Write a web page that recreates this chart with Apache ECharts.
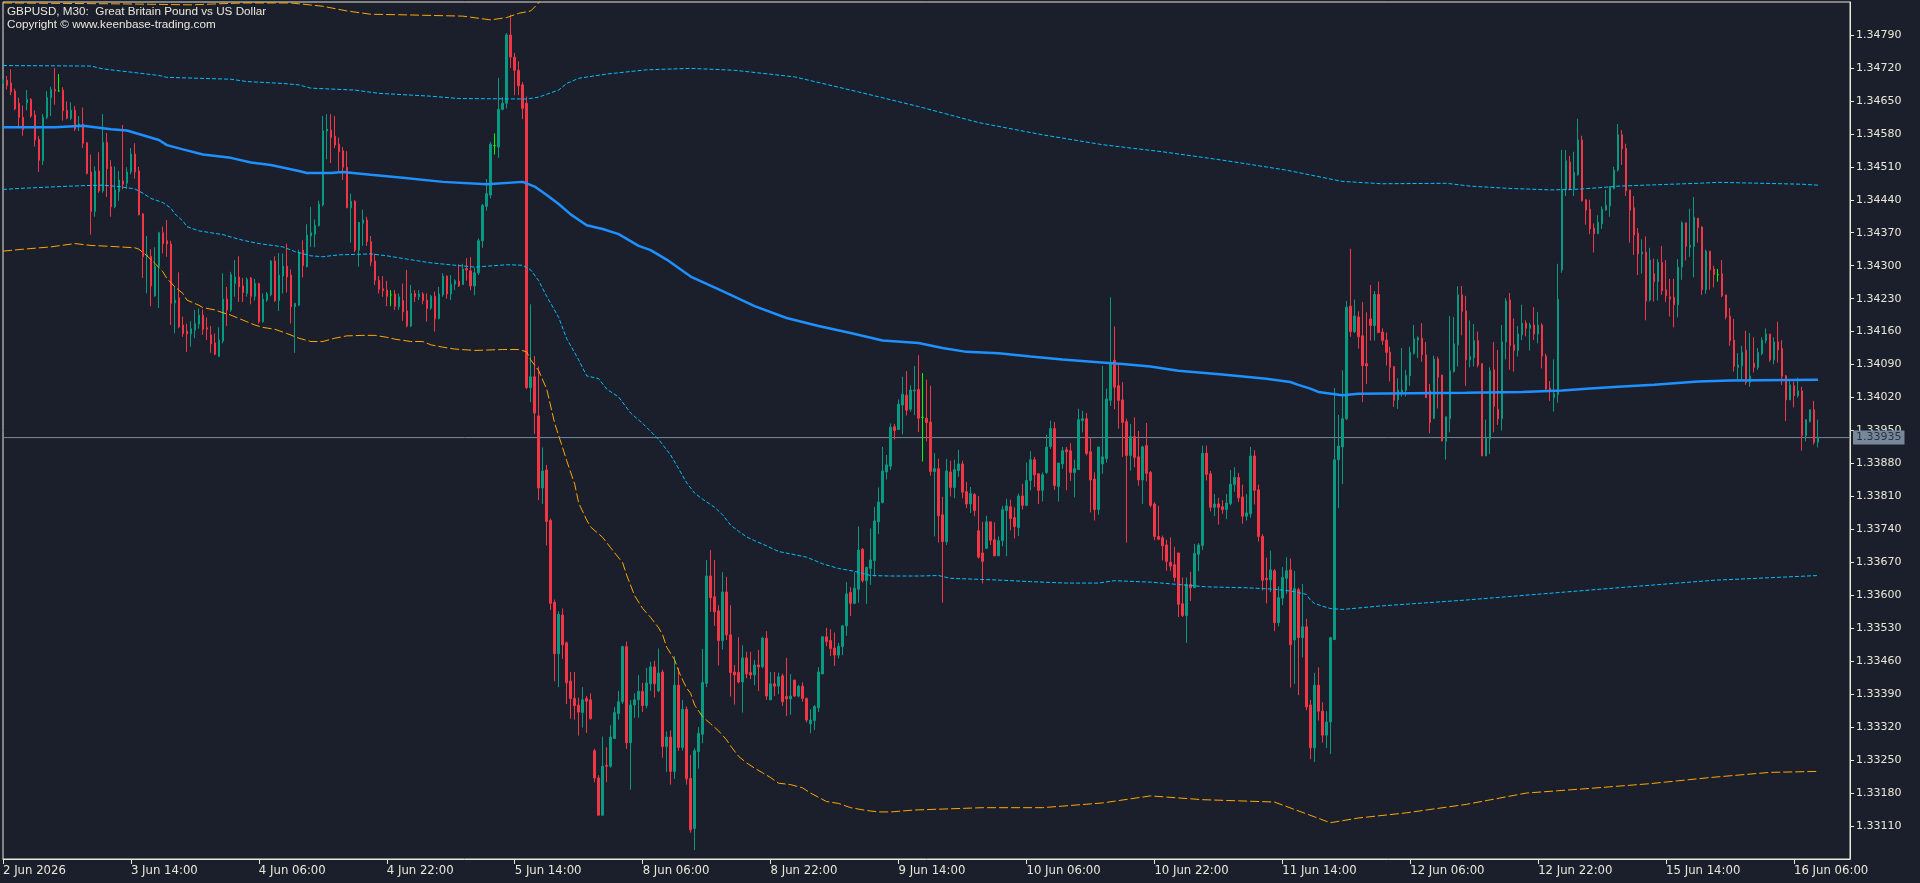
<!DOCTYPE html>
<html>
<head>
<meta charset="utf-8">
<title>GBPUSD, M30</title>
<script src="https://cdn.jsdelivr.net/npm/echarts@6/dist/echarts.min.js"></script>
<style>
  html, body { margin: 0; padding: 0; background: #1b1f2c; }
  #GbpUsdChart { width: 1920px; height: 883px; }
</style>
</head>
<body>
<div id="GbpUsdChart"></div>
<script>
// time axis labels, one every 32 bars (16 hours of M30)
const tickLabels = ["2 Jun 2026", "3 Jun 14:00", "4 Jun 06:00", "4 Jun 22:00", "5 Jun 14:00",
  "8 Jun 06:00", "8 Jun 22:00", "9 Jun 14:00", "10 Jun 06:00", "10 Jun 22:00", "11 Jun 14:00",
  "12 Jun 06:00", "12 Jun 22:00", "15 Jun 14:00", "16 Jun 06:00"];
const TICK_STEP = 32;
const BAR_SLOTS = 463; // 455 bars + chart shift on the right

// prices in points (1e-5)
const opens = [
  134688,134694,134688,134671,134645,134615,134646,134653,134620,134568,
  134523,134615,134657,134674,134671,134673,134630,134613,134630,134595,
  134601,134561,134499,134415,134501,134459,134562,134510,134425,134457,
  134480,134475,134499,134537,134501,134410,134319,134320,134236,134299,
  134370,134353,134346,134221,134232,134174,134161,134155,134163,134176,
  134195,134168,134153,134136,134107,134140,134229,
  134206,134262,134276,134257,134241,134274,134235,134262,134181,134227,
  134238,134310,134226,134278,134299,134280,134213,134216,134333,134298,
  134363,134367,134385,134429,134586,134588,134575,134558,134544,134509,
  134423,134437,134333,134390,134397,134351,134310,134269,134251,134248,
  134238,134240,134213,134226,134204,134172,134241,134234,134240,134227,
  134210,134235,134188,134238,134278,134240,134261,134267,
  134260,134294,134289,134257,134285,134353,134426,134450,134555,134552,
  134632,134645,134790,134743,134715,134684,134645,134041,134064,133981,
  133828,133866,133759,133585,133476,133558,133499,133418,133381,133367,
  133351,133381,133378,133270,133212,133133,133239,133237,133296,133349,
  133374,133491,133287,133367,133378,133396,133366,133412,133448,133397,
  133437,133279,133299,133226,133409,133277,133358,
  133211,133105,133268,133305,133413,133641,133597,133567,133504,133607,
  133516,133437,133436,133416,133467,133436,133431,133452,133448,133509,
  133378,133412,133407,133429,133385,133380,133420,133386,133407,133381,
  133327,133334,133361,133433,133512,133504,133488,133473,133491,133535,
  133606,133583,133613,133698,133631,133657,133674,133756,133797,133862,
  133874,133958,133952,134004,134025,133995,134034,134037,
  133978,133976,133968,133863,133869,133771,133714,133862,133829,133865,
  133879,133820,133794,133814,133737,133690,133700,133756,133718,133684,
  133716,133780,133788,133765,133744,133811,133791,133844,133888,133858,
  133823,133861,133916,133954,133831,133879,133909,133907,133861,133867,
  133971,133975,133905,133847,133782,133879,133890,134014,134099,134045,
  134015,133969,133897,133937,133894,133845,133918,
  133861,133794,133725,133722,133707,133670,133665,133690,133582,133557,
  133623,133616,133687,133706,133902,133858,133787,133794,133788,133782,
  133795,133835,133850,133809,133768,133773,133896,133824,133725,133636,
  133633,133652,133542,133594,133636,133654,133505,133612,133510,133533,
  133367,133276,133409,133354,133303,133331,133506,133888,133915,133975,
  134214,134160,134191,134151,134092,134187,134173,134239,
  134159,134142,134116,134086,134015,134031,134035,134066,134114,134142,
  134146,134111,134034,133976,134102,134068,133927,133975,134075,134132,
  134238,134204,134100,134105,134141,134092,133896,133932,134079,133995,
  133975,134138,134227,134132,134120,134153,134178,134167,134174,134155,
  134174,134108,134040,134020,134026,134291,134461,134520,134464,134493,
  134567,134440,134420,134380,134368,134389,134418,
  134427,134464,134503,134578,134549,134461,134423,134369,134325,134329,
  134227,134283,134266,134307,134249,134234,134233,134217,134297,134391,
  134339,134341,134401,134382,134249,134331,134293,134281,134283,134238,
  134193,134142,134084,134087,134121,134052,134093,134084,134113,134141,
  134155,134100,134138,134124,134066,134015,134045,134024,134034,133939,
  133969,133994,133925
];
const highs = [
  134696,134703,134717,134676,134657,134640,134673,134656,134630,134575,
  134622,134671,134680,134720,134707,134679,134649,134647,134639,134618,
  134636,134562,134536,134511,134541,134622,134582,134524,134511,134501,
  134599,134509,134550,134560,134510,134412,134363,134335,134339,134372,
  134383,134397,134353,134255,134286,134192,134177,134182,134206,134209,
  134207,134190,134172,134156,134169,134284,134255,
  134287,134312,134320,134274,134275,134276,134272,134264,134241,134244,
  134312,134320,134327,134326,134347,134292,134221,134334,134354,134388,
  134425,134398,134438,134618,134622,134622,134618,134572,134552,134543,
  134453,134439,134393,134419,134404,134363,134326,134278,134278,134268,
  134248,134248,134241,134262,134291,134259,134248,134248,134244,134241,
  134238,134245,134255,134284,134279,134280,134271,134303,
  134304,134316,134318,134296,134358,134431,134484,134563,134581,134699,
  134658,134794,134833,134752,134734,134690,134659,134218,134108,134086,
  133914,133877,133763,133591,133566,133572,133502,133437,133437,133383,
  133405,133386,133392,133274,133218,133300,133277,133324,133363,133397,
  133493,133502,133378,133392,133431,133414,133446,133459,133461,133487,
  133442,133311,133313,133471,133446,133378,133364,
  133261,133275,133320,133486,133675,133696,133675,133579,133649,133639,
  133579,133452,133511,133494,133480,133480,133463,133484,133512,133524,
  133437,133437,133436,133434,133467,133433,133420,133410,133415,133383,
  133358,133367,133447,133514,133531,133528,133521,133499,133537,133628,
  133617,133649,133746,133700,133661,133742,133788,133829,133915,133898,
  133965,133964,134016,134064,134076,134046,134087,134110,
  134072,134058,134045,133902,133890,133809,133890,133886,133888,133909,
  133886,133841,133830,133817,133811,133756,133769,133756,133755,133725,
  133790,133805,133803,133787,133816,133837,133882,133906,133894,133860,
  133861,133941,133971,133968,133881,133915,133915,133923,133888,133996,
  133992,133987,133936,133861,133915,134087,134039,134233,134171,134090,
  134053,133975,133964,133978,133949,133918,133966,
  133864,133798,133790,133727,133718,133723,133703,133690,133638,133638,
  133650,133709,133711,133918,133918,133864,133815,133807,133802,133815,
  133866,133872,133860,133835,133815,133915,133908,133835,133730,133680,
  133695,133656,133619,133660,133681,133678,133652,133616,133624,133550,
  133378,133435,133447,133373,133354,133512,134040,133983,134078,134225,
  134336,134228,134203,134223,134201,134259,134246,134266,
  134167,134158,134128,134086,134061,134125,134079,134128,134174,134150,
  134178,134138,134049,134109,134107,134068,133980,134193,134191,134256,
  134257,134236,134184,134176,134160,134092,133973,134084,134138,134121,
  134174,134231,134242,134188,134172,134217,134184,134179,134212,134202,
  134178,134113,134055,134101,134304,134546,134546,134533,134542,134612,
  134576,134441,134440,134390,134407,134426,134461,
  134469,134510,134601,134588,134559,134461,134448,134380,134356,134362,
  134338,134315,134314,134342,134312,134272,134272,134314,134394,134391,
  134421,134446,134401,134384,134334,134331,134300,134293,134312,134238,
  134210,134187,134114,134130,134162,134157,134148,134125,134148,134167,
  134155,134148,134181,134142,134068,134058,134054,134062,134043,133974,
  133995,134013,133973
];
const lows = [
  134686,134674,134662,134630,134594,134576,134630,134614,134553,134499,
  134514,134611,134618,134642,134669,134608,134611,134609,134586,134586,
  134550,134494,134366,134404,134455,134455,134446,134404,134422,134438,
  134462,134463,134494,134485,134407,134274,134241,134214,134234,134210,
  134326,134319,134174,134156,134167,134149,134117,134128,134146,134166,
  134153,134142,134115,134110,134107,134135,134172,
  134202,134234,134223,134223,134234,134218,134226,134177,134179,134223,
  134235,134223,134204,134241,134243,134177,134115,134214,134275,134296,
  134340,134339,134383,134426,134526,134518,134550,134501,134482,134422,
  134349,134329,134298,134342,134342,134299,134259,134241,134234,134214,
  134214,134206,134206,134183,134169,134170,134223,134227,134218,134181,
  134206,134160,134186,134234,134230,134227,134248,134255,
  134259,134268,134248,134237,134280,134338,134417,134443,134536,134529,
  134630,134634,134720,134662,134662,134611,134038,134010,133943,133802,
  133794,133706,133569,133417,133405,133465,133369,133338,133336,133302,
  133319,133308,133336,133203,133133,133133,133203,133234,133295,133336,
  133369,133274,133187,133340,133340,133352,133360,133397,133383,133394,
  133255,133225,133198,133210,133270,133270,133198,
  133096,133059,133232,133286,133405,133565,133535,133451,133485,133505,
  133385,133368,133413,133351,133424,133422,133409,133397,133445,133378,
  133378,133386,133390,133365,133344,133346,133385,133383,133374,133330,
  133307,133314,133352,133433,133492,133471,133450,133466,133473,133514,
  133556,133581,133584,133627,133582,133622,133640,133730,133795,133846,
  133866,133931,133951,133942,133982,133990,133983,133947,
  133884,133927,133854,133725,133712,133584,133707,133810,133806,133852,
  133806,133785,133775,133768,133678,133625,133698,133707,133683,133683,
  133704,133683,133738,133721,133726,133782,133789,133823,133830,133794,
  133799,133858,133911,133824,133799,133869,133823,133843,133808,133867,
  133946,133897,133776,133759,133771,133858,133882,134002,133995,133954,
  133894,133712,133865,133872,133833,133794,133842,
  133787,133717,133718,133674,133652,133652,133629,133554,133554,133499,
  133588,133616,133651,133696,133844,133778,133768,133750,133773,133762,
  133791,133820,133798,133752,133759,133765,133793,133714,133610,133583,
  133607,133524,133534,133579,133603,133404,133412,133388,133468,133356,
  133252,133246,133334,133287,133276,133263,133505,133785,133836,133972,
  134149,134157,134124,134010,134049,134141,134141,134157,
  134132,134088,134054,134000,133996,134022,134022,134045,134111,134104,
  134096,134019,133944,133974,133997,133927,133888,133946,134073,134086,
  134152,134045,134084,134086,134084,133896,133896,133900,133946,133962,
  133950,134101,134079,134075,134107,134142,134150,134120,134142,134135,
  134082,134036,134013,133990,134009,134285,134448,134460,134448,134491,
  134436,134387,134367,134328,134368,134378,134417,
  134404,134462,134500,134514,134448,134349,134323,134280,134283,134184,
  134224,134224,134226,134238,134223,134192,134169,134190,134270,134311,
  134319,134275,134349,134238,134240,134249,134254,134266,134233,134186,
  134130,134075,134058,134058,134047,134043,134073,134079,134110,134135,
  134096,134091,134094,134047,133970,134015,133999,134020,133907,133927,
  133967,133920,133914
];
const closes = [
  134694,134683,134669,134633,134615,134589,134653,134618,134567,134524,
  134615,134657,134674,134671,134671,134629,134613,134630,134590,134601,
  134560,134496,134415,134501,134459,134562,134506,134425,134461,134482,
  134473,134499,134537,134499,134408,134319,134323,134257,134299,134370,
  134347,134346,134220,134227,134170,134156,134155,134166,134177,134195,
  134165,134165,134134,134112,134142,134229,134206,
  134281,134276,134255,134243,134271,134235,134262,134181,134229,134240,
  134310,134226,134280,134299,134276,134213,134220,134328,134300,134365,
  134370,134386,134431,134586,134590,134572,134556,134542,134509,134423,
  134437,134333,134392,134397,134351,134308,134269,134250,134247,134235,
  134238,134214,134234,134202,134172,134241,134234,134240,134226,134209,
  134235,134187,134240,134278,134240,134261,134268,134257,
  134293,134291,134257,134285,134353,134428,134453,134558,134555,134632,
  134645,134790,134743,134715,134682,134634,134041,134064,133987,133828,
  133864,133757,133583,133476,133560,133495,133414,133381,133366,133352,
  133378,133375,133338,133212,133133,133237,133237,133299,133351,133374,
  133491,133287,133367,133378,133396,133366,133414,133448,133412,133435,
  133279,133299,133226,133409,133277,133358,133210,
  133102,133270,133307,133415,133641,133595,133565,133504,133607,133516,
  133436,133431,133416,133467,133433,133431,133452,133448,133509,133386,
  133412,133407,133427,133374,133380,133386,133386,133407,133381,133335,
  133335,133364,133437,133512,133502,133487,133473,133492,133535,133603,
  133583,133615,133696,133631,133659,133675,133758,133798,133864,133877,
  133957,133950,134006,134027,133993,134036,134036,133976,
  133978,133967,133863,133869,133769,133714,133864,133829,133867,133879,
  133819,133794,133816,133780,133681,133672,133756,133717,133684,133716,
  133782,133790,133763,133746,133811,133791,133844,133888,133856,133823,
  133856,133915,133954,133833,133881,133907,133905,133861,133869,133973,
  133975,133901,133845,133782,133915,133894,134017,134094,134042,134014,
  133967,133897,133937,133893,133845,133915,133859,
  133791,133725,133719,133705,133672,133662,133638,133581,133557,133623,
  133616,133689,133707,133902,133857,133787,133794,133787,133782,133796,
  133836,133850,133807,133768,133775,133896,133823,133725,133632,133633,
  133654,133542,133595,133638,133652,133495,133614,133510,133533,133363,
  133276,133409,133354,133303,133331,133510,133888,133917,133975,134212,
  134160,134193,134149,134088,134087,134173,134239,134158,
  134141,134116,134084,134014,134036,134036,134067,134116,134145,134147,
  134111,134020,133967,134102,134063,133928,133979,134077,134134,134238,
  134203,134100,134107,134141,134089,133896,133934,134077,134001,133975,
  134138,134225,134130,134120,134155,134178,134167,134174,134155,134174,
  134108,134038,134036,134028,134229,134461,134523,134464,134498,134567,
  134438,134418,134378,134368,134392,134420,134428,
  134467,134503,134578,134548,134459,134418,134365,134325,134329,134225,
  134312,134266,134307,134247,134236,134229,134217,134297,134391,134341,
  134343,134403,134381,134249,134331,134291,134281,134281,134236,134191,
  134141,134086,134089,134116,134052,134066,134084,134116,134142,134155,
  134100,134138,134121,134065,134015,134047,134024,134034,133939,133973,
  133994,133925,133935
];

// indicator lines, [bar index, points]
const maLine = [[0,134594],[13,134594],[20,134597],[27,134590],[31,134587],[35,134577],[39,134567],
  [41,134556],[45,134547],[50,134536],[57,134529],[62,134519],[67,134514],[74,134501],[76,134497],
  [82,134497],[85,134499],[92,134493],[100,134487],[110,134478],[121,134473],[130,134478],[133,134468],
  [136,134450],[139,134431],[142,134409],[146,134386],[150,134378],[154,134367],[159,134342],[162,134333],
  [166,134313],[172,134277],[180,134246],[188,134214],[196,134189],[204,134172],[212,134157],[220,134141],
  [229,134136],[235,134125],[241,134117],[249,134114],[257,134107],[265,134101],[274,134095],[280,134091],
  [287,134086],[294,134077],[305,134069],[316,134060],[322,134053],[324,134047],[327,134039],[329,134032],
  [335,134025],[339,134028],[366,134030],[380,134032],[390,134035],[397,134039],[404,134043],[413,134047],
  [424,134054],[432,134056],[454,134058]];
const upperInner = [[0,134725],[22,134724],[25,134718],[30,134713],[35,134708],[39,134704],[41,134700],
  [57,134696],[61,134691],[70,134687],[74,134684],[77,134677],[88,134673],[94,134666],[107,134660],
  [114,134655],[131,134654],[134,134658],[139,134673],[141,134687],[144,134698],[151,134707],[161,134716],
  [172,134719],[183,134715],[198,134701],[214,134669],[229,134638],[244,134604],[260,134578],[275,134557],
  [290,134542],[306,134523],[321,134503],[335,134479],[345,134474],[361,134475],[367,134469],[377,134464],
  [387,134461],[393,134462],[400,134466],[404,134469],[414,134472],[424,134475],[429,134477],[440,134475],
  [450,134473],[454,134471]];
const lowerInner = [[0,134462],[4,134464],[14,134468],[20,134470],[25,134471],[29,134468],[33,134463],
  [35,134454],[37,134443],[40,134434],[42,134422],[43,134410],[45,134395],[46,134383],[49,134374],
  [52,134370],[55,134366],[57,134361],[60,134354],[64,134347],[70,134340],[73,134330],[77,134321],
  [80,134319],[84,134323],[92,134325],[96,134321],[101,134314],[107,134306],[113,134301],[118,134297],
  [126,134302],[130,134301],[132,134291],[134,134268],[136,134235],[139,134190],[141,134145],[144,134100],
  [146,134066],[149,134060],[151,134038],[154,134021],[157,133987],[160,133965],[162,133948],[164,133931],
  [167,133898],[169,133869],[171,133839],[173,133817],[175,133804],[178,133787],[180,133771],[182,133749],
  [184,133736],[186,133724],[188,133716],[191,133705],[194,133693],[197,133688],[201,133681],[205,133667],
  [209,133657],[213,133651],[217,133642],[222,133641],[229,133641],[234,133642],[237,133636],[244,133634],
  [250,133632],[257,133629],[266,133626],[274,133626],[278,133631],[287,133628],[294,133623],[301,133618],
  [311,133616],[318,133613],[323,133608],[326,133602],[327,133590],[328,133583],[330,133577],[332,133572],
  [335,133570],[339,133573],[344,133577],[366,133590],[385,133603],[404,133616],[428,133632],[454,133642]];
const upperOuter = [[0,134858],[15,134857],[30,134856],[47,134854],[60,134858],[72,134858],[80,134851],
  [86,134841],[92,134834],[99,134833],[115,134830],[122,134822],[126,134827],[129,134836],[132,134841],
  [134,134858],[136,134885]];
const lowerOuter = [[0,134331],[5,134335],[12,134340],[18,134347],[22,134343],[27,134341],[33,134338],
  [34,134335],[36,134321],[38,134305],[40,134287],[41,134273],[43,134255],[45,134241],[46,134227],
  [49,134216],[50,134211],[53,134206],[55,134200],[57,134195],[59,134188],[61,134181],[63,134174],
  [65,134169],[68,134165],[71,134156],[74,134146],[77,134139],[80,134139],[83,134146],[86,134151],
  [90,134152],[93,134152],[96,134148],[98,134144],[102,134139],[105,134139],[107,134132],[110,134127],
  [113,134123],[118,134120],[125,134122],[129,134122],[131,134117],[132,134100],[134,134077],[136,134038],
  [138,133965],[140,133913],[141,133886],[143,133836],[144,133796],[146,133760],[147,133745],[150,133723],
  [152,133701],[155,133669],[156,133643],[158,133599],[160,133572],[162,133553],[164,133531],[165,133516],
  [166,133490],[168,133463],[169,133439],[170,133420],[171,133403],[172,133392],[173,133367],[175,133342],
  [177,133327],[179,133312],[181,133293],[182,133280],[184,133258],[186,133244],[188,133233],[190,133223],
  [192,133213],[194,133201],[197,133198],[200,133191],[202,133180],[204,133171],[206,133162],[209,133158],
  [212,133149],[216,133143],[219,133140],[222,133140],[225,133142],[228,133144],[245,133149],[260,133149],
  [275,133159],[287,133174],[300,133166],[318,133161],[326,133136],[332,133117],[339,133127],[351,133138],
  [366,133156],[381,133180],[397,133190],[412,133200],[427,133213],[442,133224],[454,133226]];

const lastPrice = 133935;

const toPrice = v => v / 100000;
const candleData = opens.map((o, i) => [toPrice(o), toPrice(closes[i]), toPrice(lows[i]), toPrice(highs[i])]);
const lineData = arr => arr.map(p => [p[0], toPrice(p[1])]);
const isTick = index => index % TICK_STEP === 0 && index / TICK_STEP < tickLabels.length;

const FG = '#e8e8d8';
const chart = echarts.init(document.getElementById('GbpUsdChart'));

const option = {
  backgroundColor: '#1b1f2c',
  animation: false,
  graphic: [
    { type: 'text', left: 7, top: 6, style: { text: 'GBPUSD, M30:  Great Britain Pound vs US Dollar', fill: FG, font: '11.7px "Liberation Sans", Arial, sans-serif' } },
    { type: 'text', left: 7, top: 19, style: { text: 'Copyright \u00a9 www.keenbase-trading.com', fill: FG, font: '11.7px "Liberation Sans", Arial, sans-serif' } }
  ],
  grid: {
    left: 2, right: 70, top: 2, bottom: 24,
    show: true, borderColor: FG, borderWidth: 1, backgroundColor: 'transparent'
  },
  xAxis: {
    type: 'category',
    boundaryGap: false,
    data: Array.from({ length: BAR_SLOTS }, (_, i) => i),
    axisLine: { lineStyle: { color: FG, width: 1 } },
    axisTick: { show: true, interval: isTick, length: 5, lineStyle: { color: FG } },
    axisLabel: {
      interval: isTick,
      formatter: (value, index) => tickLabels[index / TICK_STEP],
      align: 'left',
      margin: 5,
      color: FG,
      fontSize: 13,
      fontFamily: '"DejaVu Sans Condensed", "DejaVu Sans", sans-serif'
    },
    splitLine: { show: false }
  },
  yAxis: {
    type: 'value',
    position: 'right',
    min: 1.3304,
    max: 1.3486,
    interval: 0.0007,
    axisLine: { show: true, lineStyle: { color: FG } },
    axisTick: { show: true, length: 4, lineStyle: { color: FG } },
    axisLabel: {
      showMinLabel: false,
      showMaxLabel: false,
      formatter: v => v.toFixed(5),
      margin: 6,
      color: FG,
      fontSize: 11,
      fontFamily: '"DejaVu Sans", sans-serif'
    },
    splitLine: { show: false }
  },
  series: [
    {
      // bid line across the chart with its price tag on the scale
      name: 'Bid', type: 'line', symbol: 'none', z: 1, silent: true,
      data: [[0, toPrice(lastPrice)], [BAR_SLOTS - 1, toPrice(lastPrice)]],
      lineStyle: { color: '#778899', width: 1 },
      endLabel: {
        show: true,
        distance: 3,
        formatter: () => toPrice(lastPrice).toFixed(5),
        color: '#2a3240',
        backgroundColor: '#778899',
        padding: [2, 3, 1, 3],
        fontSize: 11,
        fontFamily: '"DejaVu Sans", sans-serif'
      }
    },
    {
      name: 'GBPUSD',
      type: 'candlestick',
      data: candleData,
      barWidth: 2,
      z: 2,
      itemStyle: {
        color: '#089981',
        color0: '#f23645',
        borderColor: '#089981',
        borderColor0: '#f23645',
        borderColorDoji: '#00ff00',
        borderWidth: 1
      }
    },
    {
      name: 'Upper band 2', type: 'line', data: lineData(upperOuter), symbol: 'none', z: 3,
      lineStyle: { color: '#ffa500', width: 1, type: [9, 3] }
    },
    {
      name: 'Lower band 2', type: 'line', data: lineData(lowerOuter), symbol: 'none', z: 3,
      lineStyle: { color: '#ffa500', width: 1, type: [9, 3] }
    },
    {
      name: 'Upper band 1', type: 'line', data: lineData(upperInner), symbol: 'none', z: 3,
      lineStyle: { color: '#00bfff', width: 1, type: [4, 2] }
    },
    {
      name: 'Lower band 1', type: 'line', data: lineData(lowerInner), symbol: 'none', z: 3,
      lineStyle: { color: '#00bfff', width: 1, type: [4, 2] }
    },
    {
      name: 'MA', type: 'line', data: lineData(maLine), symbol: 'none', z: 4,
      lineStyle: { color: '#1e90ff', width: 2.5 }
    }
  ]
};

chart.setOption(option);
</script>
</body>
</html>
